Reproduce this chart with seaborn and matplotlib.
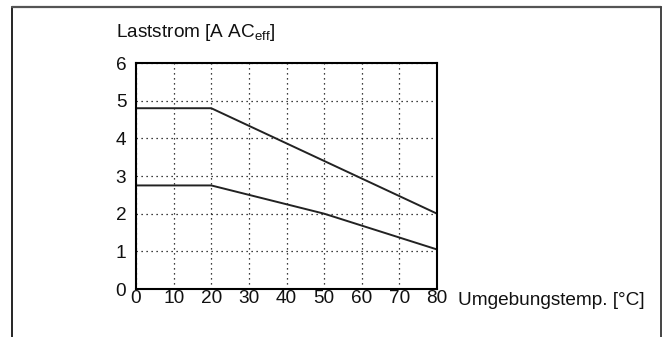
import matplotlib
matplotlib.use("Agg")
import matplotlib.pyplot as plt
from matplotlib.lines import Line2D
import pandas as pd
import seaborn as sns

# derating curves (temperature in °C, load current in A AC eff)
temp_upper = [0, 20, 80]
strom_upper = [4.8, 4.8, 2.0]
temp_lower = [0, 20, 50, 80]
strom_lower = [2.75, 2.75, 2.0, 1.05]

x_ticks = [0, 10, 20, 30, 40, 50, 60, 70, 80]
y_ticks = [0, 1, 2, 3, 4, 5, 6]

sns.set_theme(style="white")
plt.rcParams["font.family"] = ["Liberation Sans", "DejaVu Sans"]
plt.rcParams["mathtext.fontset"] = "custom"
plt.rcParams["mathtext.rm"] = "Liberation Sans"

df = pd.concat([
    pd.DataFrame({"temp": temp_upper, "strom": strom_upper, "kurve": "oben"}),
    pd.DataFrame({"temp": temp_lower, "strom": strom_lower, "kurve": "unten"}),
])

fig = plt.figure(figsize=(6.71, 3.37), dpi=100)
ax = fig.add_axes([0.2027, 0.1424, 0.4486, 0.6706])

sns.lineplot(data=df, x="temp", y="strom", hue="kurve",
             palette=["#222222", "#222222"], linewidth=1.4,
             legend=False, ax=ax, sort=False)

ax.set_xlim(0, 80)
ax.set_ylim(0, 6)
ax.set_xticks(x_ticks)
ax.set_yticks(y_ticks)
ax.tick_params(axis="both", length=0, labelsize=13.7, colors="#111111")
ax.tick_params(axis="x", pad=1)
ax.tick_params(axis="y", pad=7)

ax.grid(True, color="black", linestyle=(0, (1, 3)), linewidth=0.9)
for s in ax.spines.values():
    s.set_color("black")
    s.set_linewidth(1.5)

ax.set_xlabel("Umgebungstemp. [°C]", fontsize=13.7, ha="left", va="center",
              color="#111111")
ax.xaxis.set_label_coords(1.07, -0.05)
ax.set_ylabel(r"Laststrom [A AC$_{\mathregular{eff}}$]", fontsize=13.7,
              rotation=0, ha="left", va="center", color="#111111")
ax.yaxis.set_label_coords(-0.066, 1.133)

# open frame around the figure (no bottom edge)
fig.add_artist(Line2D([12 / 671, 12 / 671], [0, 1 - 7 / 337],
                      transform=fig.transFigure, color="black", linewidth=1.2))
fig.add_artist(Line2D([12 / 671, 661 / 671], [1 - 7 / 337, 1 - 7 / 337],
                      transform=fig.transFigure, color="#555555", linewidth=1.6))
fig.add_artist(Line2D([661 / 671, 661 / 671], [1 - 7 / 337, 0],
                      transform=fig.transFigure, color="#444444", linewidth=1.4))

fig.savefig("out.png", dpi=100)
